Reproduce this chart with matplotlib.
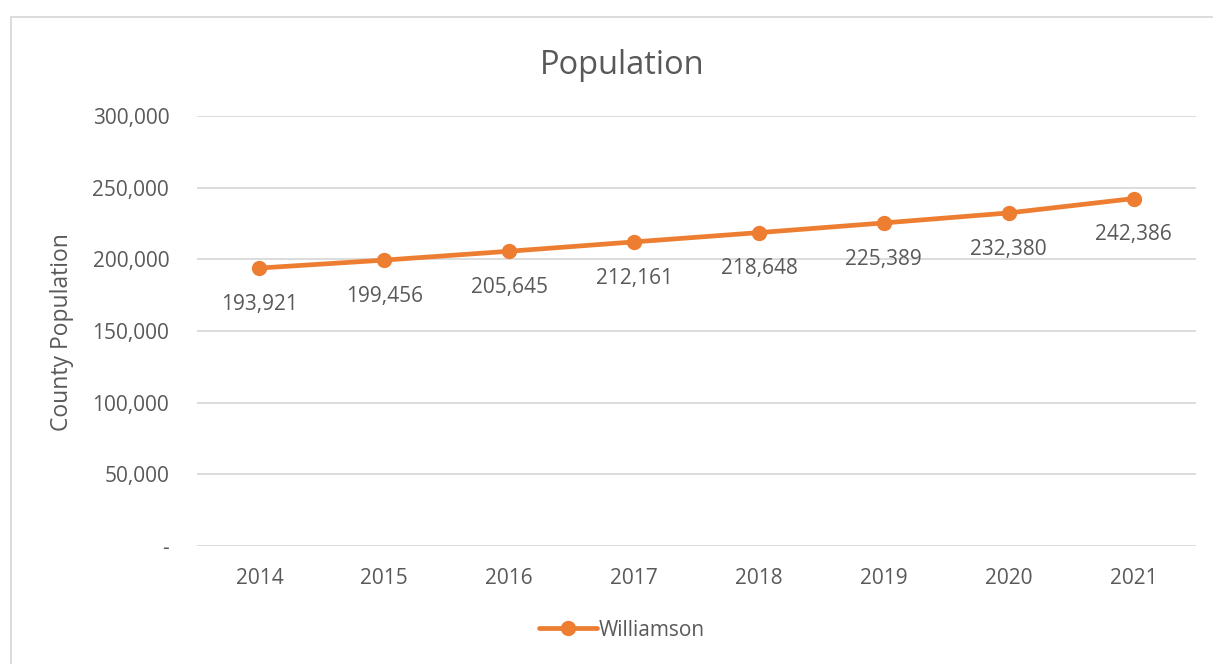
import matplotlib
matplotlib.use("Agg")
import matplotlib.pyplot as plt
from matplotlib.patches import Rectangle
from matplotlib.ticker import FuncFormatter, MultipleLocator

years = ["2014", "2015", "2016", "2017", "2018", "2019", "2020", "2021"]
population = [193921, 199456, 205645, 212161, 218648, 225389, 232380, 242386]
series_name = "Williamson"

plt.rcParams['font.family'] = ['Open Sans', 'DejaVu Sans']
TXT = "#595959"
ORANGE = "#ED7D31"
GRID = "#D9D9D9"

fig = plt.figure(figsize=(12.13, 6.64), dpi=100)
ax = fig.add_axes([197/1213, 1-546/664, (1196-197)/1213, (546-116)/664])

x = list(range(len(years)))
ax.plot(x, population, color=ORANGE, lw=3.4, marker='o', markersize=10,
        label=series_name, solid_capstyle='round', zorder=3)
for xi, v in zip(x, population):
    ax.annotate(f"{v:,}", (xi, v), xytext=(0, -26), textcoords='offset points',
                ha='center', va='center', fontsize=15, color=TXT)

ax.set_xlim(-0.5, len(years) - 0.5)
ax.set_ylim(0, 300000)
ax.set_xticks(x)
ax.set_xticklabels(years)
ax.yaxis.set_major_locator(MultipleLocator(50000))
ax.yaxis.set_major_formatter(FuncFormatter(lambda v, p: "-" if v == 0 else f"{int(v):,}"))
ax.grid(axis='y', color=GRID, lw=1.3)
ax.set_axisbelow(True)
for s in ax.spines.values():
    s.set_visible(False)
ax.tick_params(axis='both', length=0, labelsize=15, colors=TXT)
ax.tick_params(axis='y', pad=20)
ax.tick_params(axis='x', pad=16)

fig.text(62/1213, 1-332/664, "County Population", rotation=90, ha='center', va='center',
         fontsize=16.5, color=TXT)
fig.text(622/1213, 1-65/664, "Population", ha='center', va='center', fontsize=23.5, color=TXT)

leg = fig.legend(loc='center', bbox_to_anchor=(622/1213, 1-630/664), frameon=False,
                 fontsize=15, handlelength=2.8, handletextpad=0.1)
for t in leg.get_texts():
    t.set_color(TXT)

fig.patches.append(Rectangle((11/1213, -0.01), 1.02, 1-17/664 + 0.01, transform=fig.transFigure,
                             fill=False, edgecolor="#D9D9D9", lw=1.3, clip_on=False))

fig.savefig("out.png", dpi=100)
